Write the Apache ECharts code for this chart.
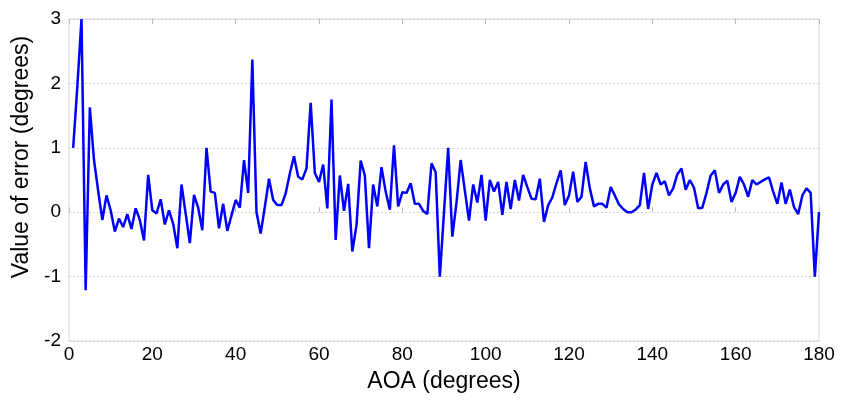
<!DOCTYPE html>
<html>
<head>
<meta charset="utf-8">
<script src="https://cdn.jsdelivr.net/npm/echarts@6/dist/echarts.min.js"></script>
<style>
  html, body { margin: 0; padding: 0; background: #fff; }
  #chart { width: 853px; height: 400px; }
</style>
</head>
<body>
<div id="chart"></div>
<script>
// AOA (degrees)
var aoa = [
  1,2,3,4,5,6,7,8,9,10,11,12,13,14,15,16,17,18,19,20,
  21,22,23,24,25,26,27,28,29,30,31,32,33,34,35,36,37,38,39,40,
  41,42,43,44,45,46,47,48,49,50,51,52,53,54,55,56,57,58,59,60,
  61,62,63,64,65,66,67,68,69,70,71,72,73,74,75,76,77,78,79,80,
  81,82,83,84,85,86,87,88,89,90,91,92,93,94,95,96,97,98,99,100,
  101,102,103,104,105,106,107,108,109,110,111,112,113,114,115,116,117,118,119,120,
  121,122,123,124,125,126,127,128,129,130,131,132,133,134,135,136,137,138,139,140,
  141,142,143,144,145,146,147,148,149,150,151,152,153,154,155,156,157,158,159,160,
  161,162,163,164,165,166,167,168,169,170,171,172,173,174,175,176,177,178,179,180
];
// value of error (degrees)
var errorVals = [
  1.0, 1.95, 3.0, -1.21, 1.63, 0.81, 0.33, -0.12, 0.26, 0.03,
  -0.30, -0.10, -0.23, -0.03, -0.26, 0.06, -0.12, -0.44, 0.58, 0.03,
  -0.02, 0.2, -0.19, 0.03, -0.18, -0.56, 0.43, -0.02, -0.48, 0.27,
  0.07, -0.28, 1.0, 0.32, 0.3, -0.25, 0.13, -0.29, -0.05, 0.19,
  0.07, 0.81, 0.30, 2.37, 0.0, -0.33, 0.08, 0.52, 0.19, 0.11,
  0.11, 0.29, 0.6, 0.87, 0.55, 0.51, 0.68, 1.70, 0.61, 0.47,
  0.74, 0.06, 1.75, -0.43, 0.57, 0.02, 0.44, -0.61, -0.2, 0.80,
  0.57, -0.56, 0.43, 0.09, 0.70, 0.32, 0.04, 1.04, 0.09, 0.31,
  0.30, 0.45, 0.13, 0.13, 0.02, -0.03, 0.76, 0.62, -1.0, 0.0,
  1.0, -0.38, 0.15, 0.81, 0.34, -0.13, 0.43, 0.15, 0.58, -0.13,
  0.5, 0.32, 0.47, -0.04, 0.47, 0.05, 0.5, 0.18, 0.58, 0.39,
  0.21, 0.2, 0.52, -0.15, 0.11, 0.23, 0.45, 0.65, 0.11, 0.26,
  0.63, 0.16, 0.24, 0.78, 0.37, 0.09, 0.13, 0.13, 0.07, 0.39,
  0.26, 0.12, 0.05, 0.0, 0.0, 0.04, 0.11, 0.61, 0.05, 0.43,
  0.61, 0.43, 0.48, 0.26, 0.37, 0.59, 0.68, 0.35, 0.5, 0.38,
  0.06, 0.07, 0.3, 0.57, 0.65, 0.3, 0.43, 0.49, 0.16, 0.3,
  0.55, 0.43, 0.24, 0.5, 0.43, 0.47, 0.51, 0.54, 0.32, 0.13,
  0.46, 0.13, 0.35, 0.08, -0.03, 0.26, 0.37, 0.3, -1.0, 0.0
];
var xTicks = [0, 20, 40, 60, 80, 100, 120, 140, 160, 180];
var yTicks = [-2, -1, 0, 1, 2, 3];

var fontFam = '"Liberation Sans", Arial, sans-serif';

var chart = echarts.init(document.getElementById('chart'), null, {renderer: 'canvas'});

var seriesData = [];
for (var i = 0; i < aoa.length; i++) {
  seriesData.push([aoa[i], errorVals[i]]);
}

var option = {
  animation: false,
  backgroundColor: '#fff',
  grid: {left: 69, right: 34, top: 19, bottom: 59, show: true, borderColor: '#d6d6d6', borderWidth: 1},
  xAxis: [{
    type: 'value',
    min: xTicks[0], max: xTicks[xTicks.length - 1], interval: 20,
    name: 'AOA (degrees)', nameLocation: 'middle', nameGap: 29,
    nameTextStyle: {color: '#000', fontSize: 23, fontFamily: fontFam},
    axisLine: {show: false},
    axisTick: {show: true, inside: true, length: 5, lineStyle: {color: '#bdbdbd'}},
    axisLabel: {color: '#000', fontSize: 19, fontFamily: fontFam, margin: 4},
    splitLine: {show: false}
  }, {
    type: 'value', position: 'top',
    min: xTicks[0], max: xTicks[xTicks.length - 1], interval: 20,
    axisLine: {show: false},
    axisTick: {show: true, inside: true, length: 5, lineStyle: {color: '#bdbdbd'}},
    axisLabel: {show: false},
    splitLine: {show: false}
  }],
  yAxis: {
    type: 'value',
    min: yTicks[0], max: yTicks[yTicks.length - 1], interval: 1,
    name: 'Value of error (degrees)', nameLocation: 'middle', nameGap: 35,
    nameTextStyle: {color: '#000', fontSize: 23, fontFamily: fontFam, padding: [0, 0, 0, 46]},
    axisLine: {show: false},
    axisTick: {show: false},
    axisLabel: {color: '#000', fontSize: 19, fontFamily: fontFam, margin: 8},
    splitLine: {show: true, lineStyle: {color: '#d0d0d0', type: [2, 2], width: 1}}
  },
  series: [{
    type: 'line',
    data: seriesData,
    showSymbol: false,
    lineStyle: {color: '#0000ff', width: 2.5},
    itemStyle: {color: '#0000ff'}
  }]
};
chart.setOption(option);
</script>
</body>
</html>
